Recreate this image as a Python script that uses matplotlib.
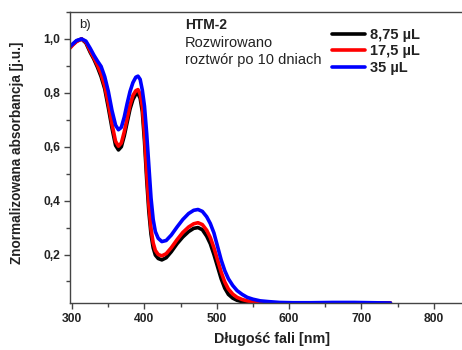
import numpy as np
import matplotlib.pyplot as plt
from matplotlib.ticker import MultipleLocator, FuncFormatter

plt.rcParams['font.family'] = ['Liberation Sans', 'DejaVu Sans']

# wavelength grid [nm]
wl = [297, 301, 306, 313, 319, 325, 330, 335, 340, 345, 350, 355, 360, 364, 368,
      372, 376, 380, 384, 388, 391, 394, 397, 400, 403, 406, 409, 412, 415, 419,
      424, 430, 437, 445, 453, 461, 468, 474, 480, 486, 491, 496, 501, 506, 511,
      516, 522, 528, 535, 542, 550, 560, 572, 587, 605, 630, 660, 690, 715, 740]

# 8,75 uL
abs_875 = [0.970, 0.980, 0.992, 1.000, 0.985, 0.950, 0.925, 0.895, 0.860, 0.815,
           0.745, 0.670, 0.605, 0.588, 0.600, 0.640, 0.690, 0.740, 0.775, 0.795,
           0.797, 0.780, 0.730, 0.620, 0.480, 0.360, 0.275, 0.225, 0.198, 0.185,
           0.180, 0.188, 0.210, 0.240, 0.265, 0.285, 0.297, 0.300, 0.292, 0.268,
           0.240, 0.200, 0.155, 0.110, 0.075, 0.052, 0.038, 0.030, 0.025, 0.022,
           0.021, 0.020, 0.020, 0.020, 0.020, 0.020, 0.020, 0.020, 0.020, 0.020]

# 17,5 uL
abs_175 = [0.966, 0.978, 0.990, 1.000, 0.988, 0.955, 0.930, 0.902, 0.870, 0.825,
           0.760, 0.685, 0.620, 0.602, 0.614, 0.655, 0.705, 0.755, 0.790, 0.808,
           0.812, 0.795, 0.750, 0.645, 0.505, 0.385, 0.295, 0.243, 0.215, 0.200,
           0.195, 0.203, 0.225, 0.255, 0.282, 0.302, 0.314, 0.318, 0.311, 0.290,
           0.263, 0.225, 0.180, 0.135, 0.098, 0.072, 0.053, 0.041, 0.033, 0.028,
           0.024, 0.022, 0.021, 0.020, 0.020, 0.020, 0.020, 0.020, 0.020, 0.020]

# 35 uL
abs_35 = [0.972, 0.982, 0.994, 1.000, 0.992, 0.965, 0.940, 0.918, 0.898, 0.860,
          0.805, 0.735, 0.680, 0.663, 0.672, 0.710, 0.760, 0.805, 0.838, 0.858,
          0.862, 0.850, 0.810, 0.750, 0.650, 0.530, 0.410, 0.330, 0.285, 0.260,
          0.248, 0.252, 0.272, 0.302, 0.330, 0.352, 0.364, 0.367, 0.360, 0.340,
          0.315, 0.280, 0.230, 0.180, 0.140, 0.110, 0.085, 0.066, 0.052, 0.041,
          0.034, 0.028, 0.025, 0.022, 0.021, 0.021, 0.022, 0.022, 0.021, 0.020]

labels = ['8,75 µL', '17,5 µL', '35 µL']
colors = ['black', 'red', 'blue']

fig = plt.figure(figsize=(4.62, 3.5), dpi=100)
W, H = 462, 350
ax = fig.add_axes([70 / W, 47 / H, 1 - 70 / W, 291 / H])

for y, lab, c in zip([abs_875, abs_175, abs_35], labels, colors):
    ax.plot(wl, y, color=c, lw=2.6, label=lab, solid_capstyle='round')

ax.set_xlim(297, 839)
ax.set_ylim(0.02, 1.10)

ax.xaxis.set_major_locator(MultipleLocator(100))
ax.xaxis.set_minor_locator(MultipleLocator(50))
ax.yaxis.set_major_locator(MultipleLocator(0.2))
ax.yaxis.set_minor_locator(MultipleLocator(0.1))
ax.yaxis.set_major_formatter(FuncFormatter(lambda v, p: f"{v:.1f}".replace('.', ',')))

spine_c = '#444444'
ax.spines['right'].set_visible(False)
for s in ['left', 'bottom', 'top']:
    ax.spines[s].set_color(spine_c)
    ax.spines[s].set_linewidth(1.0)
ax.tick_params(which='both', direction='out', color=spine_c, width=1.0)
ax.tick_params(which='major', length=4, labelsize=8.7, labelcolor='#222222', pad=3)
ax.tick_params(which='minor', length=3)
for t in ax.get_xticklabels() + ax.get_yticklabels():
    t.set_fontweight('bold')

ax.set_xlabel('Długość fali [nm]', fontsize=10.3, fontweight='bold', color='#222222')
ax.set_ylabel('Znormalizowana absorbancja [j.u.]', fontsize=9.8, fontweight='bold',
              color='#222222')
ax.xaxis.set_label_coords((272 - 70) / (W - 70), -(332 - 303) / 291)
ax.yaxis.set_label_coords(-(70 - 24) / (W - 70), (303 - 153) / 291)

fig.text(79 / W, 1 - 25 / H, 'b)', fontsize=9.5, va='center', ha='left', color='#222222')
fig.text(185 / W, 1 - 25 / H, 'HTM-2', fontsize=10, fontweight='bold', va='center',
         ha='left', color='#222222')
fig.text(185 / W, 1 - 43 / H, 'Rozwirowano', fontsize=10.5, va='center', ha='left',
         color='#222222')
fig.text(185 / W, 1 - 60 / H, 'roztwór po 10 dniach', fontsize=10.5, va='center',
         ha='left', color='#222222')

leg = ax.legend(loc='upper left', bbox_to_anchor=(329 / W, 1 - 25 / H),
                bbox_transform=fig.transFigure, frameon=False, fontsize=10.5,
                handlelength=2.3, handletextpad=0.3, labelspacing=0.17,
                borderpad=0.2, borderaxespad=0)
for t in leg.get_texts():
    t.set_fontweight('bold')
    t.set_color('#222222')

fig.savefig('out.png', dpi=100)
